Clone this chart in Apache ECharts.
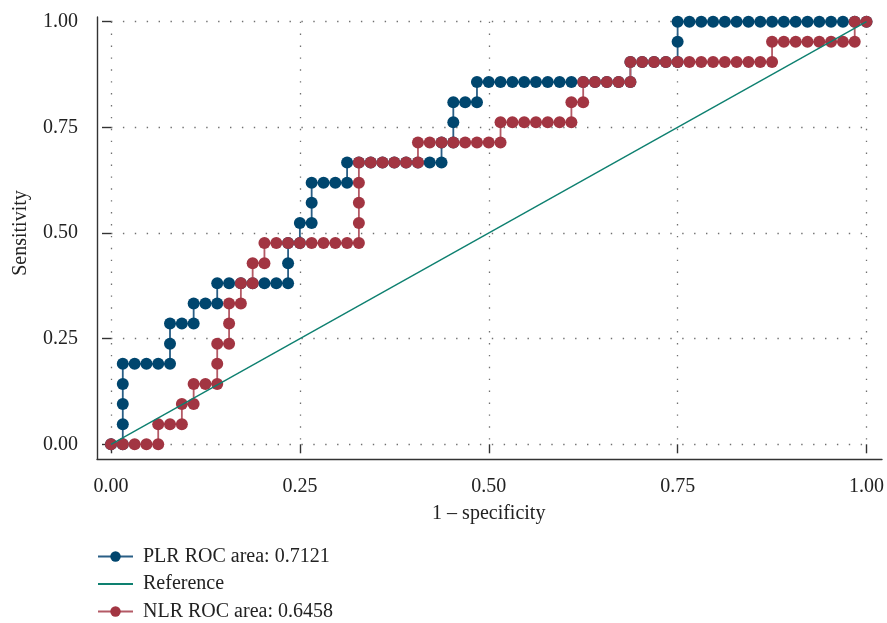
<!DOCTYPE html>
<html>
<head>
<meta charset="utf-8">
<script src="https://cdn.jsdelivr.net/npm/echarts@6/dist/echarts.min.js"></script>
<style>
  html, body { margin: 0; padding: 0; background: #fff; }
  #roc { width: 887px; height: 623px; }
</style>
</head>
<body>
<div id="roc"></div>
<script>
// ROC points (1 - specificity, sensitivity)
const plrFpr = [
  0, 0.0156, 0.0156, 0.0156, 0.0156, 0.0156,
  0.0313, 0.0469, 0.0625, 0.0781, 0.0781, 0.0781,
  0.0938, 0.1094, 0.1094, 0.125, 0.1406, 0.1406,
  0.1563, 0.1719, 0.1875, 0.2031, 0.2188, 0.2344,
  0.2344, 0.2344, 0.25, 0.25, 0.2656, 0.2656,
  0.2656, 0.2813, 0.2969, 0.3125, 0.3125, 0.3281,
  0.3438, 0.3594, 0.375, 0.3906, 0.4063, 0.4219,
  0.4375, 0.4375, 0.4531, 0.4531, 0.4531, 0.4688,
  0.4844, 0.4844, 0.5, 0.5156, 0.5313, 0.5469,
  0.5625, 0.5781, 0.5938, 0.6094, 0.625, 0.6406,
  0.6563, 0.6719, 0.6875, 0.6875, 0.7031, 0.7188,
  0.7344, 0.75, 0.75, 0.75, 0.7656, 0.7813,
  0.7969, 0.8125, 0.8281, 0.8438, 0.8594, 0.875,
  0.8906, 0.9063, 0.9219, 0.9375, 0.9531, 0.9688,
  0.9844, 1
];
const plrSens = [
  0, 0, 0.0476, 0.0952, 0.1429, 0.1905,
  0.1905, 0.1905, 0.1905, 0.1905, 0.2381, 0.2857,
  0.2857, 0.2857, 0.3333, 0.3333, 0.3333, 0.381,
  0.381, 0.381, 0.381, 0.381, 0.381, 0.381,
  0.4286, 0.4762, 0.4762, 0.5238, 0.5238, 0.5714,
  0.619, 0.619, 0.619, 0.619, 0.6667, 0.6667,
  0.6667, 0.6667, 0.6667, 0.6667, 0.6667, 0.6667,
  0.6667, 0.7143, 0.7143, 0.7619, 0.8095, 0.8095,
  0.8095, 0.8571, 0.8571, 0.8571, 0.8571, 0.8571,
  0.8571, 0.8571, 0.8571, 0.8571, 0.8571, 0.8571,
  0.8571, 0.8571, 0.8571, 0.9048, 0.9048, 0.9048,
  0.9048, 0.9048, 0.9524, 1, 1, 1,
  1, 1, 1, 1, 1, 1,
  1, 1, 1, 1, 1, 1,
  1, 1
];

const nlrFpr = [
  0, 0.0156, 0.0313, 0.0469, 0.0625, 0.0625,
  0.0781, 0.0938, 0.0938, 0.1094, 0.1094, 0.125,
  0.1406, 0.1406, 0.1406, 0.1563, 0.1563, 0.1563,
  0.1719, 0.1719, 0.1875, 0.1875, 0.2031, 0.2031,
  0.2188, 0.2344, 0.25, 0.2656, 0.2813, 0.2969,
  0.3125, 0.3281, 0.3281, 0.3281, 0.3281, 0.3281,
  0.3438, 0.3594, 0.375, 0.3906, 0.4063, 0.4063,
  0.4219, 0.4375, 0.4531, 0.4688, 0.4844, 0.5,
  0.5156, 0.5156, 0.5313, 0.5469, 0.5625, 0.5781,
  0.5938, 0.6094, 0.6094, 0.625, 0.625, 0.6406,
  0.6563, 0.6719, 0.6875, 0.6875, 0.7031, 0.7188,
  0.7344, 0.75, 0.7656, 0.7813, 0.7969, 0.8125,
  0.8281, 0.8438, 0.8594, 0.875, 0.875, 0.8906,
  0.9063, 0.9219, 0.9375, 0.9531, 0.9688, 0.9844,
  0.9844, 1
];
const nlrSens = [
  0, 0, 0, 0, 0, 0.0476,
  0.0476, 0.0476, 0.0952, 0.0952, 0.1429, 0.1429,
  0.1429, 0.1905, 0.2381, 0.2381, 0.2857, 0.3333,
  0.3333, 0.381, 0.381, 0.4286, 0.4286, 0.4762,
  0.4762, 0.4762, 0.4762, 0.4762, 0.4762, 0.4762,
  0.4762, 0.4762, 0.5238, 0.5714, 0.619, 0.6667,
  0.6667, 0.6667, 0.6667, 0.6667, 0.6667, 0.7143,
  0.7143, 0.7143, 0.7143, 0.7143, 0.7143, 0.7143,
  0.7143, 0.7619, 0.7619, 0.7619, 0.7619, 0.7619,
  0.7619, 0.7619, 0.8095, 0.8095, 0.8571, 0.8571,
  0.8571, 0.8571, 0.8571, 0.9048, 0.9048, 0.9048,
  0.9048, 0.9048, 0.9048, 0.9048, 0.9048, 0.9048,
  0.9048, 0.9048, 0.9048, 0.9048, 0.9524, 0.9524,
  0.9524, 0.9524, 0.9524, 0.9524, 0.9524, 0.9524,
  1, 1
];

const refX = [0, 1];
const refY = [0, 1];

const seriesNames = ['PLR ROC area: 0.7121', 'Reference', 'NLR ROC area: 0.6458'];

const zip = (xs, ys) => xs.map((x, i) => [x, ys[i]]);

const FONT = 'Liberation Serif';
const TXT = '#222';
const FS = 20;

let myChart = echarts.init(document.getElementById('roc'), null, { renderer: 'canvas' });

const dotted = { color: '#707070', width: 1.3, type: [1.4, 10.5] };

myChart.setOption({
  animation: false,
  backgroundColor: '#fff',
  textStyle: { fontFamily: FONT, color: TXT },
  grid: [
    // outer frame carrying the axis lines
    { left: 97, right: 5, top: 17, bottom: 164 },
    // data region
    { left: 111, right: 18.7, top: 21.7, bottom: 178.7 }
  ],
  legend: {
    data: [
      seriesNames[0],
      { name: seriesNames[1], itemStyle: { opacity: 0 } },
      seriesNames[2]
    ],
    orient: 'vertical',
    left: 97,
    top: 546,
    padding: 0,
    itemWidth: 35,
    itemHeight: 13,
    itemGap: 6.5,
    textStyle: { fontFamily: FONT, fontSize: FS, color: TXT, lineHeight: 21, padding: [0, 0, 0, 5] }
  },
  xAxis: [
    {
      type: 'value', gridIndex: 0, min: 0, max: 1,
      axisLine: { show: true, lineStyle: { color: '#333', width: 1.4 } },
      axisTick: { show: false }, axisLabel: { show: false }, splitLine: { show: false }
    },
    {
      type: 'value', gridIndex: 1, min: 0, max: 1, interval: 0.25,
      offset: 15,
      name: '1 – specificity',
      nameLocation: 'middle',
      nameGap: 44,
      nameTextStyle: { fontFamily: FONT, fontSize: FS, color: TXT },
      axisLine: { show: false },
      axisTick: { show: true, length: 9, lineStyle: { color: '#333', width: 1.4 } },
      axisLabel: {
        margin: 17, fontFamily: FONT, fontSize: FS, color: TXT,
        formatter: v => v.toFixed(2)
      },
      splitLine: { show: true, lineStyle: dotted }
    }
  ],
  yAxis: [
    {
      type: 'value', gridIndex: 0, min: 0, max: 1,
      axisLine: { show: true, lineStyle: { color: '#333', width: 1.4 } },
      axisTick: { show: false }, axisLabel: { show: false }, splitLine: { show: false }
    },
    {
      type: 'value', gridIndex: 1, min: 0, max: 1, interval: 0.25,
      offset: 14,
      name: 'Sensitivity',
      nameLocation: 'middle',
      nameGap: 66,
      nameTextStyle: { fontFamily: FONT, fontSize: FS, color: TXT },
      axisLine: { show: false },
      axisTick: { show: true, length: 9, lineStyle: { color: '#333', width: 1.4 } },
      axisLabel: {
        margin: 19, fontFamily: FONT, fontSize: FS, color: TXT,
        formatter: v => v.toFixed(2)
      },
      splitLine: { show: true, lineStyle: dotted }
    }
  ],
  series: [
    {
      name: seriesNames[0],
      type: 'line',
      xAxisIndex: 1, yAxisIndex: 1,
      data: zip(plrFpr, plrSens),
      symbol: 'circle',
      symbolSize: 12,
      clip: false,
      itemStyle: { color: '#00466e' },
      lineStyle: { color: '#2a5f86', width: 1.8 },
      z: 2
    },
    {
      name: seriesNames[2],
      type: 'line',
      xAxisIndex: 1, yAxisIndex: 1,
      data: zip(nlrFpr, nlrSens),
      symbol: 'circle',
      symbolSize: 12,
      clip: false,
      itemStyle: { color: '#a23542' },
      lineStyle: { color: '#b45a66', width: 1.8 },
      z: 3
    },
    {
      name: seriesNames[1],
      type: 'line',
      xAxisIndex: 1, yAxisIndex: 1,
      data: zip(refX, refY),
      symbol: 'none',
      clip: false,
      itemStyle: { color: '#0e8070' },
      lineStyle: { color: '#0e8070', width: 1.4 },
      z: 4
    }
  ]
});
</script>
</body>
</html>
